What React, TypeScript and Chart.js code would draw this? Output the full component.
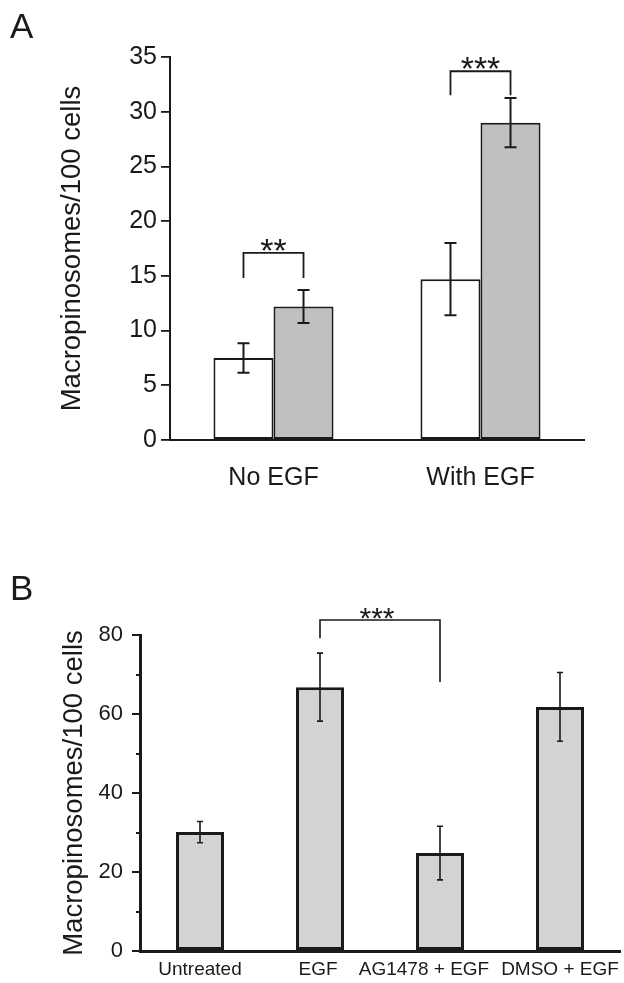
import React, { useEffect, useRef } from 'react';
import { Chart, registerables } from 'chart.js';

Chart.register(...registerables);

// ---------- Panel A data ----------
const categoriesA = ['No EGF', 'With EGF'];
const whiteValuesA = [7.5, 14.7];
const whiteErrorsA = [1.35, 3.3];
const grayValuesA = [12.2, 29.0];
const grayErrorsA = [1.5, 2.25];
// significance brackets: [top, leftEnd, rightEnd]
const bracketA1 = [17.1, 14.8, 14.8];
const bracketA2 = [33.7, 31.5, 31.5];
const starsA = ['**', '***'];

// ---------- Panel B data ----------
const categoriesB = ['Untreated', 'EGF', 'AG1478 + EGF', 'DMSO + EGF'];
const valuesB = [30.1, 66.8, 24.8, 61.8];
const errorsB = [2.7, 8.6, 6.8, 8.7];
const bracketB = [83.8, 79.2, 68.1];
const starsB = ['***'];

const yTitle = 'Macropinosomes/100 cells';
const FONT = "'Liberation Sans', Arial, Helvetica, sans-serif";
const INK = '#1a1a1a';

const errorBarPlugin = {
  id: 'errorBars',
  afterDatasetsDraw(chart: any, _a: any, opts: any) {
    const ctx = chart.ctx;
    chart.data.datasets.forEach((ds: any, i: number) => {
      const errs = ds.errors;
      if (!errs) return;
      const meta = chart.getDatasetMeta(i);
      const ys = chart.scales[meta.yAxisID];
      meta.data.forEach((bar: any, j: number) => {
        const v = ds.data[j];
        const e = errs[j];
        const x = bar.x;
        const yHi = ys.getPixelForValue(v + e);
        const yLo = ys.getPixelForValue(v - e);
        ctx.save();
        ctx.strokeStyle = INK;
        ctx.lineWidth = opts.lineWidth;
        ctx.beginPath();
        ctx.moveTo(x, yHi);
        ctx.lineTo(x, yLo);
        ctx.moveTo(x - opts.cap, yHi);
        ctx.lineTo(x + opts.cap, yHi);
        ctx.moveTo(x - opts.cap, yLo);
        ctx.lineTo(x + opts.cap, yLo);
        ctx.stroke();
        ctx.restore();
      });
    });
  },
};

const bracketPlugin = {
  id: 'brackets',
  afterDraw(chart: any, _a: any, opts: any) {
    const ctx = chart.ctx;
    const ys = chart.scales.y;
    (opts.items || []).forEach((b: any) => {
      const x1 = chart.getDatasetMeta(b.from[0]).data[b.from[1]].x;
      const x2 = chart.getDatasetMeta(b.to[0]).data[b.to[1]].x;
      const yt = ys.getPixelForValue(b.levels[0]);
      const yl = ys.getPixelForValue(b.levels[1]);
      const yr = ys.getPixelForValue(b.levels[2]);
      ctx.save();
      ctx.strokeStyle = INK;
      ctx.lineWidth = opts.lineWidth;
      ctx.beginPath();
      ctx.moveTo(x1, yl);
      ctx.lineTo(x1, yt);
      ctx.lineTo(x2, yt);
      ctx.lineTo(x2, yr);
      ctx.stroke();
      ctx.fillStyle = INK;
      ctx.font = `${opts.starSize}px ${FONT}`;
      ctx.textAlign = 'center';
      ctx.textBaseline = 'alphabetic';
      ctx.fillText(b.label, (x1 + x2) / 2 + (opts.dx || 0), yt - opts.gap + 0.44 * opts.starSize);
      ctx.restore();
    });
  },
};

const xLabelPlugin = {
  id: 'xLabels',
  afterDraw(chart: any, _a: any, opts: any) {
    if (!opts.labels) return;
    const ctx = chart.ctx;
    const xs = chart.scales.x;
    ctx.save();
    ctx.fillStyle = INK;
    ctx.font = `${opts.size}px ${FONT}`;
    ctx.textAlign = 'center';
    ctx.textBaseline = 'top';
    opts.labels.forEach((lab: string, i: number) => {
      ctx.fillText(lab, xs.getPixelForValue(i) + (opts.nudge[i] || 0), chart.chartArea.bottom + opts.offset);
    });
    ctx.restore();
  },
};

function PanelA() {
  const ref = useRef<HTMLCanvasElement>(null);
  useEffect(() => {
    const chart = new Chart(ref.current as HTMLCanvasElement, {
      type: 'bar',
      data: {
        labels: categoriesA,
        datasets: [
          {
            data: whiteValuesA,
            errors: whiteErrorsA,
            backgroundColor: '#ffffff',
            borderColor: INK,
            borderWidth: 2,
            borderSkipped: false,
            categoryPercentage: 0.58,
            barPercentage: 1,
          } as any,
          {
            data: grayValuesA,
            errors: grayErrorsA,
            backgroundColor: '#c0c0c0',
            borderColor: INK,
            borderWidth: 2,
            borderSkipped: false,
            categoryPercentage: 0.58,
            barPercentage: 1,
          } as any,
        ],
      },
      options: {
        animation: false,
        responsive: false,
        layout: { padding: { left: 0, top: 57, right: 40, bottom: 0 } },
        plugins: {
          legend: { display: false },
          tooltip: { enabled: false },
          errorBars: { lineWidth: 2, cap: 6 },
          brackets: {
            lineWidth: 1.8,
            starSize: 34,
            gap: 6,
            items: [
              { from: [0, 0], to: [1, 0], levels: bracketA1, label: starsA[0] },
              { from: [0, 1], to: [1, 1], levels: bracketA2, label: starsA[1] },
            ],
          },
        } as any,
        scales: {
          x: {
            grid: { display: false },
            border: { display: true, width: 2, color: INK },
            ticks: { color: INK, font: { family: FONT, size: 25 }, padding: 15 },
            afterFit: (s: any) => { s.height = 60; },
          },
          y: {
            min: 0,
            max: 35,
            ticks: { stepSize: 5, color: INK, font: { family: FONT, size: 25 }, padding: 4 },
            grid: { drawOnChartArea: false, tickLength: 9, lineWidth: 1.8, color: INK },
            border: { display: true, width: 2, color: INK },
            title: {
              display: true,
              text: yTitle,
              color: INK,
              font: { family: FONT, size: 27.5 },
              padding: { top: 56, bottom: 0 },
            },
            afterFit: (s: any) => { s.width = 170; },
          },
        },
      },
      plugins: [errorBarPlugin, bracketPlugin],
    } as any);
    return () => chart.destroy();
  }, []);
  return <canvas ref={ref} width={624} height={500} style={{ position: 'absolute', left: 0, top: 0, width: 624, height: 500 }} />;
}

function PanelB() {
  const ref = useRef<HTMLCanvasElement>(null);
  useEffect(() => {
    const chart = new Chart(ref.current as HTMLCanvasElement, {
      type: 'bar',
      data: {
        labels: categoriesB,
        datasets: [
          {
            data: valuesB,
            errors: errorsB,
            xAxisID: 'x',
            yAxisID: 'y',
            backgroundColor: '#d3d3d3',
            borderColor: INK,
            borderWidth: 3,
            borderSkipped: false,
            categoryPercentage: 0.4,
            barPercentage: 1,
          } as any,
        ],
      },
      options: {
        animation: false,
        responsive: false,
        layout: { padding: { left: 0, top: 95, right: 4, bottom: 0 } },
        plugins: {
          legend: { display: false },
          tooltip: { enabled: false },
          errorBars: { lineWidth: 1.6, cap: 3 },
          brackets: {
            lineWidth: 1.6,
            starSize: 30,
            gap: 5,
            dx: -3,
            items: [{ from: [0, 1], to: [0, 2], levels: bracketB, label: starsB[0] }],
          },
          xLabels: { labels: categoriesB, size: 19, offset: 9, nudge: [0, -2, -16, 0] },
        } as any,
        scales: {
          x: {
            grid: { display: false },
            border: { display: true, width: 3, color: INK },
            ticks: { display: false },
            afterFit: (s: any) => { s.height = 32; },
          },
          y: {
            position: 'left',
            weight: 1,
            min: 0,
            max: 80,
            ticks: { stepSize: 20, color: INK, font: { family: FONT, size: 22 }, padding: 9 },
            grid: { drawOnChartArea: false, tickLength: 8, lineWidth: 2, color: INK },
            border: { display: true, width: 3, color: INK },
            title: {
              display: true,
              text: yTitle,
              color: INK,
              font: { family: FONT, size: 27.5 },
              padding: { top: 58, bottom: 0 },
            },
            afterFit: (s: any) => { s.width = 140; },
          },
          yMinor: {
            type: 'linear',
            position: 'left',
            weight: 0,
            min: 0,
            max: 80,
            ticks: { stepSize: 10, display: false },
            grid: { drawOnChartArea: false, tickLength: 4, lineWidth: 2, color: INK },
            border: { display: false },
            afterFit: (s: any) => { s.width = 0; },
          },
        },
      },
      plugins: [errorBarPlugin, bracketPlugin, xLabelPlugin],
    } as any);
    return () => chart.destroy();
  }, []);
  return <canvas ref={ref} width={624} height={443} style={{ position: 'absolute', left: 0, top: 540, width: 624, height: 443 }} />;
}

const letterStyle: React.CSSProperties = {
  position: 'absolute',
  left: 10,
  fontFamily: FONT,
  fontSize: 35,
  lineHeight: 1,
  color: INK,
};

export default function App() {
  return (
    <div style={{ position: 'absolute', left: 0, top: 0, width: 624, height: 983, background: '#ffffff', overflow: 'hidden' }}>
      <PanelA />
      <PanelB />
      <div style={{ ...letterStyle, top: 8 }}>A</div>
      <div style={{ ...letterStyle, top: 570 }}>B</div>
    </div>
  );
}
